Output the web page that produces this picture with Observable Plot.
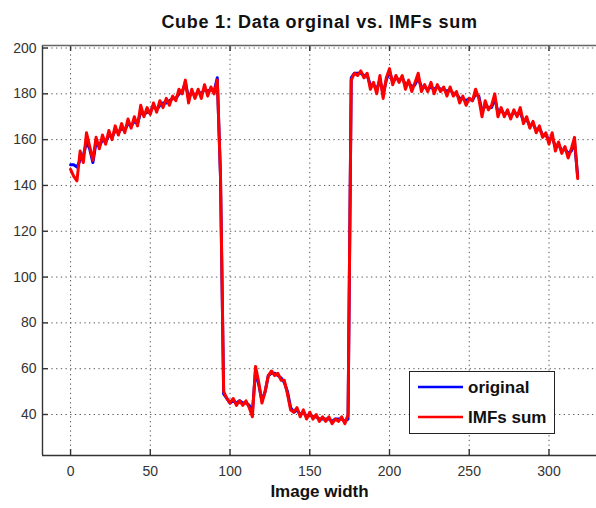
<!DOCTYPE html>
<html>
<head>
<meta charset="utf-8">
<script src="https://cdn.jsdelivr.net/npm/d3@7"></script>
<script src="https://cdn.jsdelivr.net/npm/@observablehq/plot@0.6"></script>
<style>
  html, body { margin: 0; padding: 0; background: white; }
  #wrap { position: relative; width: 596px; height: 508px; overflow: hidden; }
  #legend { position: absolute; left: 409px; top: 371px; width: 144px; height: 61px;
            border: 1.5px solid #222; background: white; }
</style>
</head>
<body>
<div id="wrap"></div>
<script>
const chartTitle = "Cube 1: Data orginal vs. IMFs sum";
const xLabel = "Image width";
const seriesNames = ["original", "IMFs sum"];
const xTicks = [0, 50, 100, 150, 200, 250, 300];
const yTicks = [40, 60, 80, 100, 120, 140, 160, 180, 200];

// image column positions (every 2nd column)
const imageX = d3.range(0, 320, 2);

// original data
const original = [
  149,149,148,151,153,159,156,150,159,157,
  160,159,162,161,164,163,165,164,167,166,
  168,167,172,171,172,172,175,173,175,176,
  176,177,178,178,180,181,185,178,181,179,
  181,180,182,181,182,181,187,144,49,47,
  45,46,45,46,45,45,44,41,59,53,
  46,50,57,58,58,57,56,54,50,43,
  41,42,40,41,39,40,39,39,38,38,
  38,38,37,38,38,38,37,38,187,189,
  189,189,188,188,184,184,182,186,180,186,
  190,185,187,186,187,184,185,183,184,187,
  183,183,182,183,182,183,182,182,181,182,
  180,180,178,178,177,178,177,180,179,172,
  175,174,174,178,172,173,171,172,170,172,
  171,172,168,169,166,167,164,165,162,162,
  160,161,157,158,155,156,154,155,159,144
];

// IMFs sum
const imfsSum = [
  147,144,142,155,150,163,157,151,161,156,
  162,158,164,160,166,162,167,163,169,165,
  170,166,175,170,174,171,176,172,177,174,
  178,175,179,177,182,180,186,176,182,178,
  182,178,184,179,183,180,186,145,50,47,
  45,47,44,46,44,46,43,39,61,54,
  45,50,57,59,57,58,55,55,49,42,
  41,43,39,42,38,41,38,40,37,39,
  37,39,36,38,37,39,36,40,186,189,
  188,190,187,189,182,185,180,188,178,187,
  191,184,188,185,188,182,186,181,185,189,
  181,184,181,185,180,184,181,183,179,183,
  179,181,176,179,175,178,177,182,178,170,
  177,173,175,180,170,174,170,173,169,173,
  170,174,167,170,165,168,163,166,161,163,
  158,163,155,159,154,157,152,156,161,143
];

const xDomain = [-17.6, 329.8];
const yDomain = [22.1, 201.1];

const origData = imageX.map((x, i) => ({x, y: original[i]}));
const imfData = imageX.map((x, i) => ({x, y: imfsSum[i]}));

const gridStyle = {stroke: "#555", strokeWidth: 1, strokeDasharray: "1.3,3.4"};
const frameStyle = {stroke: "#333", strokeWidth: 1.4};

const chart = Plot.plot({
  width: 596,
  height: 508,
  marginLeft: 42,
  marginRight: 0,
  marginTop: 45,
  marginBottom: 53,
  style: {fontSize: "14px", fontFamily: "'Liberation Sans', Arial, sans-serif", color: "#333", background: "white"},
  x: {domain: xDomain, ticks: xTicks, tickSize: 0, tickPadding: 11, label: null, tickFormat: d => String(d)},
  y: {domain: yDomain, ticks: yTicks, tickSize: 0, tickPadding: 6, label: null, tickFormat: d => String(d)},
  marks: [
    Plot.ruleX(xTicks, gridStyle),
    Plot.ruleY(yTicks, gridStyle),
    Plot.ruleX(xTicks, {y1: yDomain[0], y2: yDomain[0] + 2.6, ...frameStyle}),
    Plot.ruleX(xTicks, {y1: yDomain[1], y2: yDomain[1] - 2.6, ...frameStyle}),
    Plot.ruleY(yTicks, {x1: xDomain[0], x2: xDomain[0] + 3.7, ...frameStyle}),
    Plot.ruleX([xDomain[0]], frameStyle),
    Plot.ruleY([yDomain[0]], frameStyle),
    Plot.ruleY([yDomain[1]], {stroke: "#666", strokeWidth: 1.6}),
    Plot.line(origData, {x: "x", y: "y", stroke: "#0000ff", strokeWidth: 3}),
    Plot.line(imfData, {x: "x", y: "y", stroke: "#ff0000", strokeWidth: 3}),
    Plot.text([chartTitle], {frameAnchor: "top", dy: -30, fontSize: 18, fontWeight: "bold", fill: "#111"}),
    Plot.text([xLabel], {frameAnchor: "bottom", dy: 41, fontSize: 17, fontWeight: "bold", fill: "#111"})
  ]
});

d3.select(chart).selectAll("text")
  .filter(function() { return this.textContent === chartTitle; })
  .attr("letter-spacing", "0.7px");

const wrap = document.getElementById("wrap");
wrap.appendChild(chart);

// legend overlay
const legend = document.createElement("div");
legend.id = "legend";
const colors = ["#0000ff", "#ff0000"];
const ns = "http://www.w3.org/2000/svg";
const lsvg = document.createElementNS(ns, "svg");
lsvg.setAttribute("width", 144);
lsvg.setAttribute("height", 61);
seriesNames.forEach((name, i) => {
  const cy = 15 + i * 30;
  const ln = document.createElementNS(ns, "line");
  ln.setAttribute("x1", 8); ln.setAttribute("x2", 53);
  ln.setAttribute("y1", cy); ln.setAttribute("y2", cy);
  ln.setAttribute("stroke", colors[i]); ln.setAttribute("stroke-width", 2.6);
  lsvg.appendChild(ln);
  const tx = document.createElementNS(ns, "text");
  tx.setAttribute("x", 58); tx.setAttribute("y", cy);
  tx.setAttribute("dy", "0.35em");
  tx.setAttribute("font-family", "'Liberation Sans', Arial, sans-serif");
  tx.setAttribute("font-size", 17);
  tx.setAttribute("font-weight", "bold");
  tx.setAttribute("fill", "#111");
  tx.textContent = name;
  lsvg.appendChild(tx);
});
legend.appendChild(lsvg);
wrap.appendChild(legend);
</script>
</body>
</html>
